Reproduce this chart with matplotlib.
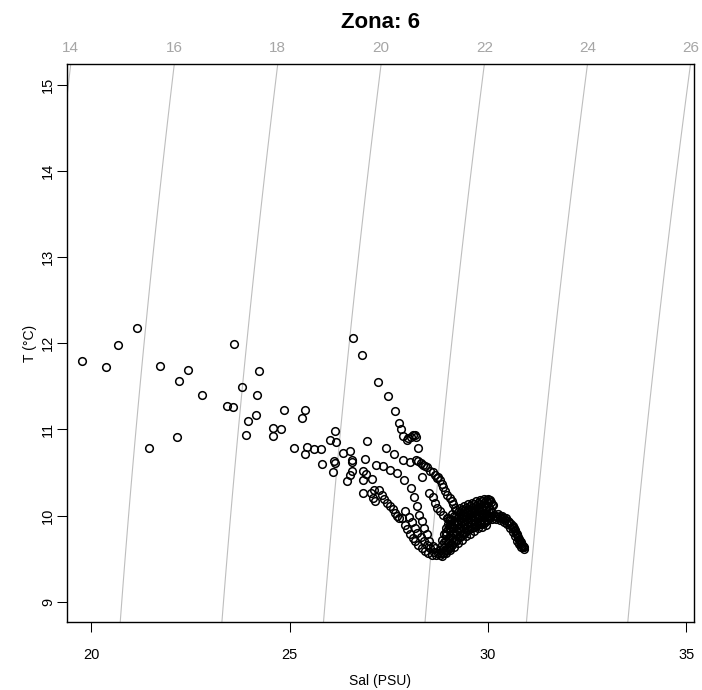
import numpy as np
import matplotlib
matplotlib.use("Agg")
import matplotlib.pyplot as plt

plt.rcParams['font.family'] = ['Liberation Sans', 'DejaVu Sans']

# salinity (PSU) / temperature (C)
sal = [19.76, 20.36, 20.67, 21.15, 21.72, 21.46, 22.20, 22.43, 22.15, 22.80,
       23.42, 23.57, 23.59, 23.79, 23.94, 23.91, 24.16, 24.17, 24.23,
       24.57, 24.59, 24.79, 24.87, 25.30, 25.39, 25.10, 25.43, 25.39, 25.61,
       25.79, 25.81, 26.01, 26.15, 26.18, 26.12, 26.15, 26.09, 26.35, 26.53,
       26.58, 26.58, 26.57, 26.53, 26.45,
       26.59, 26.83, 27.23, 27.49, 27.65, 27.75, 27.80, 27.86, 27.95, 27.99,
       28.05, 28.10, 28.15, 28.18,
       26.94, 26.89, 26.86, 26.92, 26.86, 27.07, 26.86, 27.04, 27.09, 27.13,
       27.18, 27.36, 27.42, 27.62, 27.52, 27.71, 27.85, 28.03, 28.23, 27.88,
       28.06, 28.13, 28.20, 28.26, 28.33, 28.52, 28.61, 28.66, 28.72,
       28.19, 28.24, 28.30, 28.35, 28.41, 28.47, 28.54, 28.61, 28.66, 28.72,
       27.15, 27.26, 27.34, 27.38, 27.45, 27.53, 27.60, 27.66, 27.70, 27.76,
       28.75, 28.79, 28.83, 28.87, 28.92, 28.96, 29.03, 29.09, 29.13, 29.17,
       28.33, 28.39, 28.46, 28.52, 28.61, 28.66,
       28.79, 28.86, 28.96, 29.04,
       27.82, 27.91, 27.97, 28.03, 28.10, 28.16, 28.24, 28.33, 28.41, 28.50,
       28.58, 28.69, 28.79, 28.87, 28.96, 29.04,
       27.90, 28.00, 28.08, 28.15, 28.22, 28.30, 28.38, 28.45, 28.55, 28.65, 28.75,
       # dense core
       29.05, 29.15, 29.25, 29.35, 29.45, 29.55, 29.65, 29.75, 29.85, 29.95,
       30.02, 30.08, 30.12,
       29.00, 29.10, 29.20, 29.30, 29.40, 29.50, 29.60, 29.70, 29.80, 29.90,
       30.00, 30.06,
       29.00, 29.10, 29.20, 29.30, 29.40, 29.50, 29.60, 29.70, 29.80, 29.90,
       30.00, 30.10,
       28.95, 29.05, 29.15, 29.25, 29.35, 29.45, 29.55, 29.65, 29.75, 29.85,
       29.95, 30.05,
       28.95, 29.05, 29.15, 29.25, 29.35, 29.45, 29.55, 29.65, 29.75, 29.85,
       29.95, 30.05,
       28.90, 29.00, 29.10, 29.20, 29.30, 29.40, 29.50, 29.60, 29.70, 29.80,
       29.90, 30.00, 30.10,
       28.85, 28.95, 29.05, 29.15, 29.25, 29.35, 29.45, 29.55, 29.65, 29.75,
       29.85, 29.95, 30.05, 30.15,
       28.90, 29.00, 29.10, 29.20, 29.30, 29.40, 29.50, 29.60, 29.70, 29.80,
       29.90, 30.00,
       28.85, 28.95, 29.05, 29.15, 29.25, 29.35, 29.45, 29.55, 29.65, 29.75,
       29.85, 29.95, 30.05,
       28.80, 28.90, 29.00, 29.10, 29.20, 29.30, 29.40, 29.50, 29.60, 29.70,
       29.80, 29.90, 30.00, 30.10,
       28.90, 29.00, 29.10, 29.20, 29.30, 29.40, 29.50, 29.60, 29.70, 29.80,
       29.90,
       28.82, 28.92, 29.02, 29.12, 29.22, 29.32, 29.42, 29.52, 29.62, 29.72,
       29.82, 29.92,
       28.85, 28.95, 29.05, 29.15, 29.25, 29.35, 29.45, 29.55, 29.65, 29.75,
       29.85, 29.95,
       # tail
       30.25, 30.35, 30.45, 30.54, 30.62, 30.68, 30.74, 30.79, 30.84, 30.88, 30.92,
       30.20, 30.30, 30.40, 30.50, 30.58, 30.65, 30.71, 30.76, 30.81, 30.86, 30.90,
       30.22, 30.32, 30.42, 30.52, 30.60, 30.67, 30.72, 30.78, 30.83, 30.87,
       30.20, 30.30, 30.40, 30.48, 30.56, 30.63, 30.69, 30.74, 30.79, 30.84]
temp = [11.80, 11.73, 11.98, 12.18, 11.74, 10.79, 11.56, 11.69, 10.91, 11.40,
        11.27, 11.26, 11.99, 11.49, 11.10, 10.94, 11.17, 11.40, 11.68,
        11.02, 10.92, 11.00, 11.23, 11.13, 11.22, 10.79, 10.80, 10.72, 10.77,
        10.77, 10.60, 10.88, 10.98, 10.85, 10.63, 10.61, 10.51, 10.73, 10.75,
        10.65, 10.62, 10.52, 10.47, 10.40,
        12.06, 11.86, 11.55, 11.39, 11.21, 11.07, 11.00, 10.92, 10.88, 10.90,
        10.91, 10.93, 10.94, 10.91,
        10.87, 10.66, 10.52, 10.48, 10.41, 10.43, 10.26, 10.26, 10.20, 10.30,
        10.59, 10.57, 10.78, 10.71, 10.53, 10.49, 10.64, 10.62, 10.79, 10.41,
        10.32, 10.22, 10.11, 10.01, 10.45, 10.26, 10.21, 10.15, 10.09,
        10.64, 10.63, 10.61, 10.59, 10.57, 10.56, 10.52, 10.50, 10.47, 10.44,
        10.17, 10.30, 10.24, 10.19, 10.14, 10.11, 10.08, 10.03, 9.99, 9.97,
        10.45, 10.41, 10.37, 10.33, 10.29, 10.24, 10.20, 10.17, 10.13, 10.09,
        9.94, 9.86, 9.78, 9.70, 9.65, 9.62,
        10.05, 10.01, 9.97, 9.95,
        9.97, 9.89, 9.84, 9.79, 9.74, 9.70, 9.66, 9.62, 9.59, 9.56,
        9.54, 9.54, 9.54, 9.56, 9.60, 9.62,
        10.05, 9.98, 9.92, 9.86, 9.80, 9.75, 9.70, 9.66, 9.62, 9.58, 9.57,
        # dense core
        9.95, 10.00, 10.04, 10.07, 10.09, 10.11, 10.13, 10.15, 10.17, 10.18,
        10.18, 10.16, 10.12,
        9.97, 10.02, 10.06, 10.09, 10.11, 10.13, 10.15, 10.17, 10.18, 10.19,
        10.19, 10.18,
        9.90, 9.95, 9.99, 10.03, 10.05, 10.07, 10.09, 10.11, 10.13, 10.14,
        10.14, 10.12,
        9.85, 9.90, 9.94, 9.98, 10.01, 10.03, 10.05, 10.07, 10.09, 10.10,
        10.10, 10.08,
        9.81, 9.86, 9.90, 9.94, 9.97, 10.00, 10.02, 10.04, 10.06, 10.07,
        10.07, 10.06,
        9.78, 9.84, 9.88, 9.92, 9.96, 9.99, 10.01, 10.03, 10.05, 10.06,
        10.06, 10.05, 10.04,
        9.72, 9.77, 9.82, 9.86, 9.90, 9.93, 9.96, 9.98, 10.00, 10.01,
        10.02, 10.02, 10.00, 9.99,
        9.69, 9.74, 9.78, 9.82, 9.86, 9.90, 9.92, 9.95, 9.97, 9.98,
        9.99, 9.99,
        9.66, 9.71, 9.76, 9.80, 9.84, 9.88, 9.90, 9.93, 9.95, 9.97,
        9.98, 9.98, 9.98,
        9.60, 9.64, 9.69, 9.74, 9.78, 9.82, 9.85, 9.88, 9.90, 9.92,
        9.93, 9.94, 9.95, 9.96,
        9.57, 9.62, 9.66, 9.71, 9.75, 9.79, 9.83, 9.86, 9.88, 9.90,
        9.91,
        9.57, 9.60, 9.65, 9.69, 9.73, 9.77, 9.81, 9.84, 9.87, 9.89,
        9.90, 9.92,
        9.53, 9.56, 9.60, 9.64, 9.68, 9.72, 9.76, 9.79, 9.82, 9.85,
        9.87, 9.89,
        # tail
        10.02, 10.00, 9.97, 9.93, 9.88, 9.83, 9.78, 9.73, 9.69, 9.65, 9.61,
        10.00, 9.99, 9.97, 9.94, 9.90, 9.85, 9.80, 9.75, 9.70, 9.66, 9.63,
        9.98, 9.97, 9.95, 9.91, 9.87, 9.82, 9.77, 9.72, 9.67, 9.63,
        9.96, 9.95, 9.93, 9.90, 9.86, 9.81, 9.76, 9.71, 9.67, 9.64]

sigma_levels = [14, 16, 18, 20, 22, 24, 26]
sal_ticks = [20, 25, 30, 35]
temp_ticks = [9, 10, 11, 12, 13, 14, 15]
xlim = (19.38, 35.2)
ylim = (8.76, 15.24)


def sigma_t(S, T):
    # UNESCO 1980 equation of state at surface pressure
    rho_w = (999.842594 + 6.793952e-2 * T - 9.095290e-3 * T**2
             + 1.001685e-4 * T**3 - 1.120083e-6 * T**4 + 6.536332e-9 * T**5)
    A = 8.24493e-1 - 4.0899e-3 * T + 7.6438e-5 * T**2 - 8.2467e-7 * T**3 + 5.3875e-9 * T**4
    B = -5.72466e-3 + 1.0227e-4 * T - 1.6546e-6 * T**2
    C = 4.8314e-4
    return rho_w + A * S + B * S**1.5 + C * S**2 - 1000


fig, ax = plt.subplots(figsize=(7.02, 6.9), dpi=100)
fig.subplots_adjust(left=0.095, right=0.989, top=0.9068, bottom=0.0981)

sg, tg = np.meshgrid(np.linspace(18, 37, 400), np.linspace(8, 16, 400))
ax.contour(sg, tg, sigma_t(sg, tg), levels=sigma_levels, colors='#BEBEBE', linewidths=0.8)

# density labels where each isoline leaves the top of the box
s_fine = np.linspace(18, 37, 2000)
top_sig = sigma_t(s_fine, ylim[1])
for lev in sigma_levels:
    s_at = np.interp(lev, top_sig, s_fine)
    ax.annotate(str(lev), xy=(s_at, 1), xycoords=('data', 'axes fraction'),
                xytext=(0, 12), textcoords='offset points', ha='center', va='center',
                color='#A6A6A6', fontsize=11, annotation_clip=False)

ax.plot(sal, temp, 'o', ms=5.5, mfc='none', mec='black', mew=1.1, ls='none')

ax.set_xlim(xlim)
ax.set_ylim(ylim)
ax.set_xticks(sal_ticks)
ax.set_yticks(temp_ticks)
ax.set_yticklabels([str(t) for t in temp_ticks], rotation=90, va='center')
ax.tick_params(axis='both', length=7.2, width=0.75, labelsize=10.5)
ax.tick_params(axis='x', pad=11)
ax.tick_params(axis='y', pad=1)
for sp in ax.spines.values():
    sp.set_linewidth(1.0)

ax.set_xlabel('Sal (PSU)', fontsize=10, labelpad=9)
ax.set_ylabel('T (°C)', fontsize=10, labelpad=3)
ax.set_title('Zona: 6', fontsize=16, fontweight='bold', pad=26)

fig.savefig('out.png', dpi=100)
